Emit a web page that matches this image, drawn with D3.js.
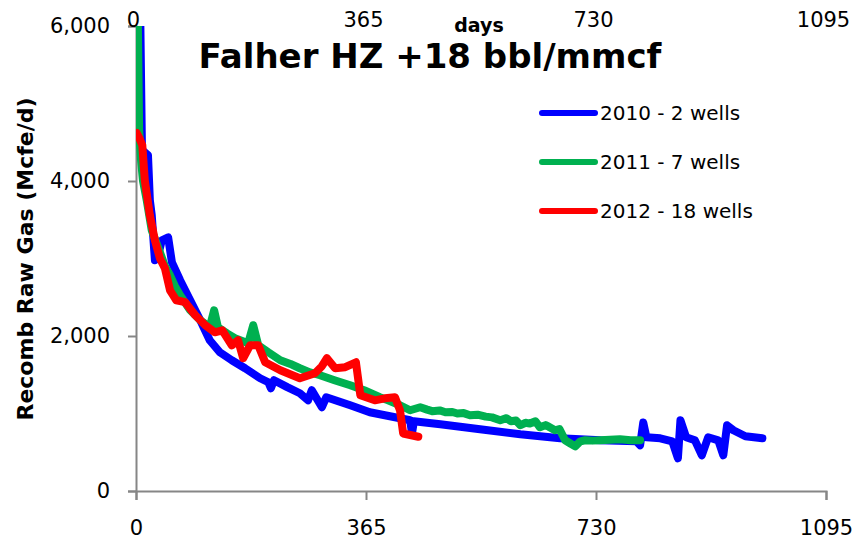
<!DOCTYPE html>
<html>
<head>
<meta charset="utf-8">
<script src="https://cdn.jsdelivr.net/npm/d3@7"></script>
<style>
  body { margin: 0; background: #fff; }
  text { font-family: "DejaVu Sans", Verdana, sans-serif; fill: #000; }
</style>
</head>
<body>
<div id="chart"></div>
<script>
// chart values: [day, Mcfe/d]
var blue2010 = [[6,6600],[9.5,4395],[14,4370],[19,4332],[22,3750],[25,3557],[30,2977],[35,3041],[41,3235],
  [51,3273],[57,2951],[70,2719],[86,2461],[102,2203],[117,1945],[133,1790],[152,1687],[173,1584],[197,1455],
  [210,1403],[214,1326],[219,1429],[240,1340],[260,1261],[273,1170],[279,1300],[295,1081],[302,1210],[340,1106],
  [371,1016],[419,939],[435,913],[438,745],[441,900],[483,861],[546,797],[610,732],[673,680],[737,654],[794,642],
  [800,590],[805,884],[810,693],[832,680],[851,641],[860,422],[864,913],[873,693],[887,654],[898,461],[908,693],
  [924,654],[932,461],[938,848],[948,784],[967,706],[994,680]];
var green2011 = [[1.6,6600],[3,6000],[5,4654],[8,4265],[11,4007],[17,3750],[25,3363],[38,3079],[46,2900],[54,2783],
  [62,2640],[70,2525],[86,2332],[102,2203],[117,2113],[124,2332],[130,2113],[145,2030],[157,1971],[178,1906],
  [186,2139],[194,1881],[210,1790],[229,1687],[245,1640],[260,1584],[276,1530],[292,1494],[315,1430],[340,1364],
  [362,1300],[387,1210],[400,1170],[419,1106],[435,1042],[451,1081],[462,1050],[470,1030],[482,1040],[491,1016],
  [502,1020],[510,1000],[520,1005],[530,977],[542,985],[555,960],[565,950],[578,913],[588,940],[595,900],
  [603,910],[610,848],[618,880],[625,870],[634,900],[641,822],[650,850],[655,830],[665,784],[672,800],[681,655],
  [690,610],[697,577],[705,640],[713,655],[725,650],[737,655],[752,660],[768,667],[785,655],[800,655]];
var red2012 = [[1,4620],[5,4560],[10,4460],[14,4007],[22,3557],[30,3235],[38,3000],[46,2870],[54,2590],[64,2461],
  [78,2436],[94,2268],[110,2139],[125,2048],[137,2074],[152,1880],[162,1945],[170,1713],[181,1880],[194,1881],
  [205,1661],[229,1558],[260,1455],[284,1520],[295,1610],[303,1713],[316,1584],[332,1597],[349,1661],[356,1235],
  [379,1170],[395,1196],[411,1210],[419,1040],[424,742],[448,700]];

var seriesNames = ["2010 - 2 wells", "2011 - 7 wells", "2012 - 18 wells"];
var seriesColors = ["#0000ff", "#00b050", "#ff0000"];
var xTicks = [0, 365, 730, 1095];
var yTicks = [0, 2000, 4000, 6000];

var width = 856, height = 539;
var margin = {left: 136, right: 30, top: 26, bottom: 48};

var svg = d3.select("#chart").append("svg")
  .attr("width", width)
  .attr("height", height);

var x = d3.scaleLinear().domain([0, 1095]).range([margin.left, width - margin.right]);
var y = d3.scaleLinear().domain([0, 6000]).range([height - margin.bottom, margin.top]);

svg.append("clipPath").attr("id", "plot")
  .append("rect")
  .attr("x", margin.left).attr("y", margin.top)
  .attr("width", x(1095) - margin.left).attr("height", y(0) - margin.top);

// y axis
var yAxis = svg.append("g")
  .attr("transform", "translate(" + margin.left + ",0)")
  .call(d3.axisLeft(y).tickValues(yTicks).tickSize(8).tickPadding(18).tickFormat(d3.format(",")));
// bottom axis
var xAxis = svg.append("g")
  .attr("transform", "translate(0," + y(0) + ")")
  .call(d3.axisBottom(x).tickValues(xTicks).tickSize(9).tickPadding(20).tickFormat(d3.format("d")));
[yAxis, xAxis].forEach(function(g) {
  g.select(".domain").attr("stroke", "#868686").attr("stroke-width", 2);
  g.selectAll(".tick line").attr("stroke", "#868686").attr("stroke-width", 2);
  g.selectAll("text").style("font-size", "21px").attr("fill", "#000");
});
xAxis.selectAll("text").attr("dy", "0.71em");

// top axis, labels only
var topAxis = svg.append("g")
  .attr("transform", "translate(-3,27)")
  .call(d3.axisTop(x).tickValues(xTicks).tickSize(0).tickPadding(0).tickFormat(d3.format("d")));
topAxis.select(".domain").remove();
topAxis.selectAll("text").style("font-size", "21px").attr("fill", "#000");

svg.append("text")
  .attr("x", 479).attr("y", 32)
  .attr("text-anchor", "middle")
  .style("font-size", "19px").style("font-weight", "bold")
  .text("days");

svg.append("text")
  .attr("x", 430).attr("y", 68)
  .attr("text-anchor", "middle")
  .style("font-size", "34px").style("font-weight", "bold")
  .text("Falher HZ +18 bbl/mmcf");

svg.append("text")
  .attr("transform", "translate(33,259) rotate(-90)")
  .attr("text-anchor", "middle")
  .style("font-size", "22px").style("font-weight", "bold")
  .text("Recomb Raw Gas (Mcfe/d)");

// lines
var line = d3.line()
  .x(function(d) { return x(d[0]); })
  .y(function(d) { return y(d[1]); });

var allSeries = [blue2010, green2011, red2012];
svg.append("g").attr("clip-path", "url(#plot)")
  .selectAll("path")
  .data(allSeries)
  .enter()
  .append("path")
  .attr("d", line)
  .attr("fill", "none")
  .attr("stroke", function(d, i) { return seriesColors[i]; })
  .attr("stroke-width", 8)
  .attr("stroke-linejoin", "round")
  .attr("stroke-linecap", "round");

// legend
var legend = svg.append("g").selectAll("g")
  .data(seriesNames)
  .enter()
  .append("g")
  .attr("transform", function(d, i) { return "translate(540," + (113 + i * 49) + ")"; });
legend.append("line")
  .attr("x1", 2).attr("x2", 55)
  .attr("stroke", function(d, i) { return seriesColors[i]; })
  .attr("stroke-width", 6)
  .attr("stroke-linecap", "round");
legend.append("text")
  .attr("x", 60).attr("dy", "0.35em")
  .style("font-size", "20px")
  .text(function(d) { return d; });
</script>
</body>
</html>
